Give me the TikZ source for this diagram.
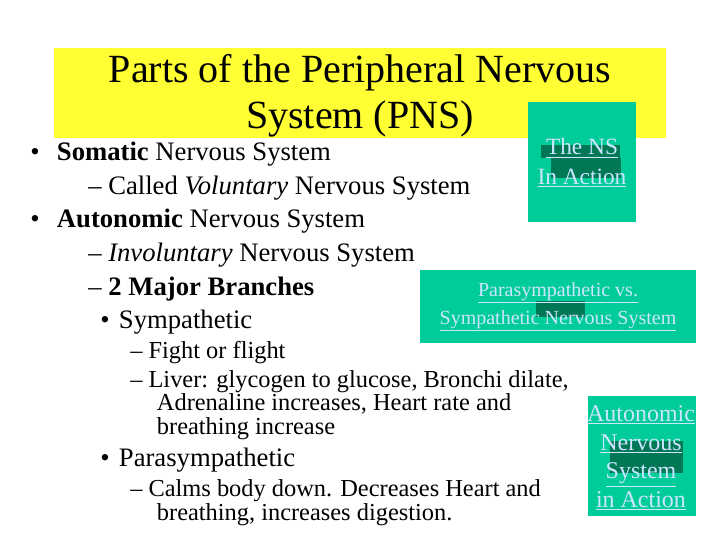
\documentclass[tikz,border=0pt]{standalone}
\usepackage{fontspec}
\setmainfont{Liberation Serif}
\definecolor{ttl}{HTML}{FFFF33}
\definecolor{grn}{HTML}{00CC99}
\definecolor{dk}{HTML}{007755}
\definecolor{lnk}{HTML}{CCE6FF}
\begin{document}
\begin{tikzpicture}[x=0.75pt,y=-0.75pt,
  txt/.style={anchor=west,inner sep=0pt,font=\fontsize{20}{22}\selectfont},
  sm/.style={anchor=west,inner sep=0pt,font=\fontsize{18.3}{18}\selectfont},
  lk/.style={inner sep=0pt,text=lnk,align=center}]
\useasboundingbox (0,0) rectangle (720,540);
\fill[white] (0,0) rectangle (720,540);
\fill[ttl] (54,48) rectangle (666,138);
\node[inner sep=0pt,align=center,font=\fontsize{30}{34.5}\selectfont] (title) at (360,96) {Parts of the Peripheral Nervous\\System (PNS)};
% green boxes
\fill[grn] (528,102) rectangle (636,222);
\fill[dk] (541,145) rectangle (620,158);
\fill[dk] (551,158) rectangle (621,178);
\node[lk,font=\fontsize{17.5}{22}\selectfont] (ns) at (582,163) {\underline{The NS}\\\underline{In Action}};
\fill[grn] (420,270) rectangle (696,343);
\fill[dk] (536,301) rectangle (585,317);
\node[lk,font=\fontsize{15}{21}\selectfont] (ps) at (558,307) {\underline{Parasympathetic vs.}\\\underline{Sympathetic Nervous System}};
\fill[grn] (588,396) rectangle (696,516);
\fill[dk] (610,441) rectangle (683,473);
\node[lk,font=\fontsize{18}{21.5}\selectfont] (an) at (641,458) {\underline{Autonomic}\\\underline{Nervous}\\\underline{System}\\\underline{in Action}};
% text
\node[txt] (b1) at (30,154) {•\hspace{13pt}\textbf{Somatic} Nervous System};
\node[txt] (b1a) at (88,188) {– Called \textit{Voluntary} Nervous System};
\node[txt] (b2) at (30,221) {•\hspace{13pt}\textbf{Autonomic} Nervous System};
\node[txt] (b2a) at (88,255) {– \textit{Involuntary} Nervous System};
\node[txt] (b2b) at (88,289) {– \textbf{2 Major Branches}};
\node[txt] (s1) at (100,322) {•\hspace{7pt}Sympathetic};
\node[sm] (f1) at (130,353) {– Fight or flight};
\node[sm,align=left,font=\fontsize{18.3}{17.6}\selectfont,anchor=north west] (f2) at (130,370) {– Liver: glycogen to glucose, Bronchi dilate,\\\hspace{20pt}Adrenaline increases, Heart rate and\\\hspace{20pt}breathing increase};
\node[txt] (s2) at (100,460) {•\hspace{7pt}Parasympathetic};
\node[sm,align=left,font=\fontsize{18.3}{18}\selectfont,anchor=north west] (c1) at (130,479) {– Calms body down. Decreases Heart and\\\hspace{20pt}breathing, increases digestion.};
\end{tikzpicture}
\end{document}
